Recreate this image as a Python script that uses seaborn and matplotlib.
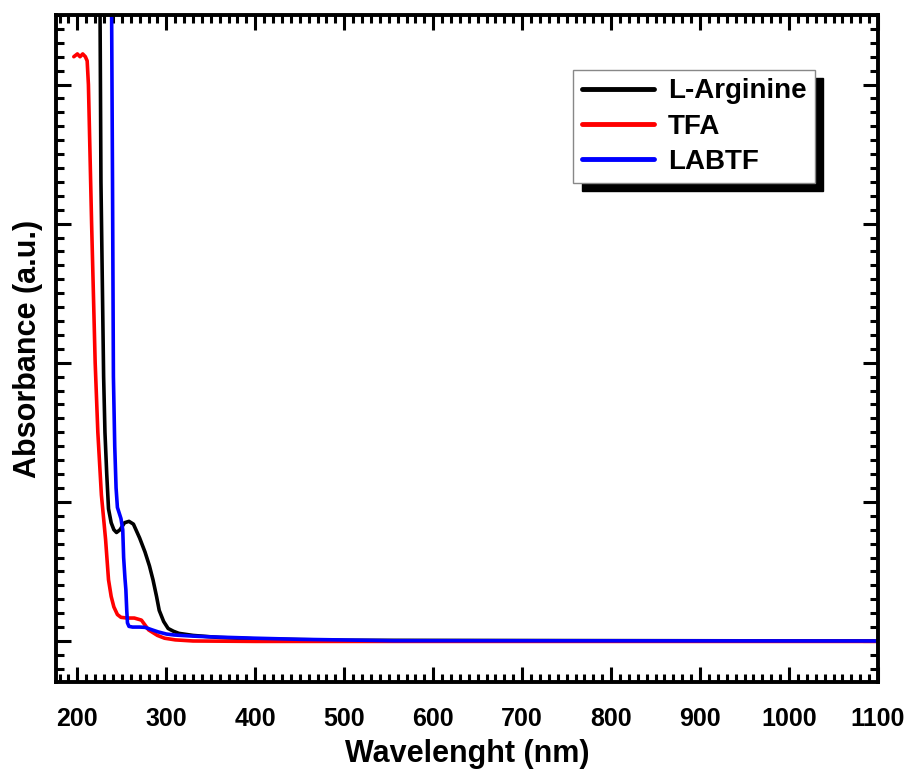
import numpy as np
import pandas as pd
import seaborn as sns
import matplotlib
matplotlib.use("Agg")
import matplotlib.pyplot as plt
from matplotlib.ticker import MultipleLocator, NullFormatter

# ---- data ----
arg_x = [224, 225.5, 226.5, 228, 229.5, 231, 233, 235, 238, 241, 244, 248, 253, 258, 263,
         270, 276, 281, 285, 289, 292, 297, 302, 308, 314, 330, 360, 400, 500, 1100]
arg_y = [5.0, 4.5, 3.3, 2.6, 1.9, 1.5, 1.2, 0.95, 0.85, 0.80, 0.78, 0.80, 0.85, 0.86, 0.84,
         0.74, 0.64, 0.54, 0.44, 0.32, 0.22, 0.14, 0.09, 0.07, 0.055, 0.04, 0.025, 0.015, 0.005, 0.0]

tfa_x = [196, 200, 203, 206, 209, 211, 212.4, 216, 220, 223, 227, 231.7, 235, 238, 241, 245,
         249, 256, 264, 272, 280, 290, 298, 310, 330, 400, 1100]
tfa_y = [4.20, 4.22, 4.20, 4.22, 4.20, 4.17, 4.0, 3.0, 2.0, 1.5, 1.05, 0.73, 0.44, 0.32, 0.245,
         0.19, 0.17, 0.165, 0.165, 0.15, 0.08, 0.04, 0.02, 0.008, 0.0, -0.003, -0.003]

lab_x = [237.5, 238.5, 239.5, 240.5, 242, 243.5, 245, 247, 249, 251, 252, 253.5, 254.5, 255.5,
         256.3, 258, 262, 270, 276, 284, 291, 300, 309, 330, 348, 400, 450, 555, 1100]
lab_y = [5.0, 4.5, 3.3, 1.9, 1.4, 1.1, 0.96, 0.92, 0.88, 0.80, 0.60, 0.45, 0.37, 0.22,
         0.13, 0.105, 0.10, 0.10, 0.098, 0.08, 0.065, 0.05, 0.043, 0.035, 0.03, 0.02, 0.012, 0.002, 0.0]

series_names = ["L-Arginine", "TFA", "LABTF"]
series_colors = ["#000000", "#ff0000", "#0000ff"]
x_ticks = [200, 300, 400, 500, 600, 700, 800, 900, 1000, 1100]

sns.set_style("ticks")
plt.rcParams['font.family'] = ['Liberation Sans', 'DejaVu Sans']
plt.rcParams['font.weight'] = 'bold'
plt.rcParams['text.color'] = 'black'
plt.rcParams['axes.labelcolor'] = 'black'
plt.rcParams['xtick.color'] = 'black'
plt.rcParams['ytick.color'] = 'black'

fig = plt.figure(figsize=(9.14, 7.76), dpi=100)
ax = fig.add_axes([0.0613, 0.1211, 0.8993, 0.8596])

for name, xs, ys, col in zip(series_names, [arg_x, tfa_x, lab_x], [arg_y, tfa_y, lab_y], series_colors):
    df = pd.DataFrame({"x": xs, "y": ys})
    sns.lineplot(data=df, x="x", y="y", ax=ax, color=col, lw=2.6, sort=False,
                 label=name, estimator=None)

ax.set_xlim(176, 1100)
ax.set_ylim(-0.295, 4.5)
ax.set_xticks(x_ticks)
ax.set_xticklabels([str(t) for t in x_ticks], fontsize=18, fontweight='bold')
ax.xaxis.set_minor_locator(MultipleLocator(10))
ax.yaxis.set_major_locator(MultipleLocator(1))
ax.yaxis.set_minor_locator(MultipleLocator(0.1))
ax.yaxis.set_major_formatter(NullFormatter())
ax.tick_params(which='both', direction='in', top=True, right=True, width=2.2, color='black')
ax.tick_params(which='major', length=11)
ax.tick_params(which='minor', length=6)
ax.tick_params(axis='x', pad=18)
for s in ax.spines.values():
    s.set_linewidth(2.8)
    s.set_color('black')

ax.set_xlabel("Wavelenght (nm)", fontsize=22, fontweight='bold', labelpad=6)
ax.set_ylabel("Absorbance (a.u.)", fontsize=22, fontweight='bold', labelpad=6)

leg = ax.legend(loc='upper right', bbox_to_anchor=(0.923, 0.9175), borderaxespad=0,
                fancybox=False, frameon=True, prop={'size': 20, 'weight': 'bold'},
                handlelength=2.6, handletextpad=0.5, labelspacing=0.33, borderpad=0.3,
                shadow={'ox': 6, 'oy': -6, 'color': 'black', 'alpha': 1.0})
leg.get_frame().set_edgecolor('#888888')
leg.get_frame().set_linewidth(1.0)
leg.get_frame().set_alpha(1.0)
for h in leg.get_lines():
    h.set_linewidth(3.5)

fig.savefig("out.png", dpi=100)
